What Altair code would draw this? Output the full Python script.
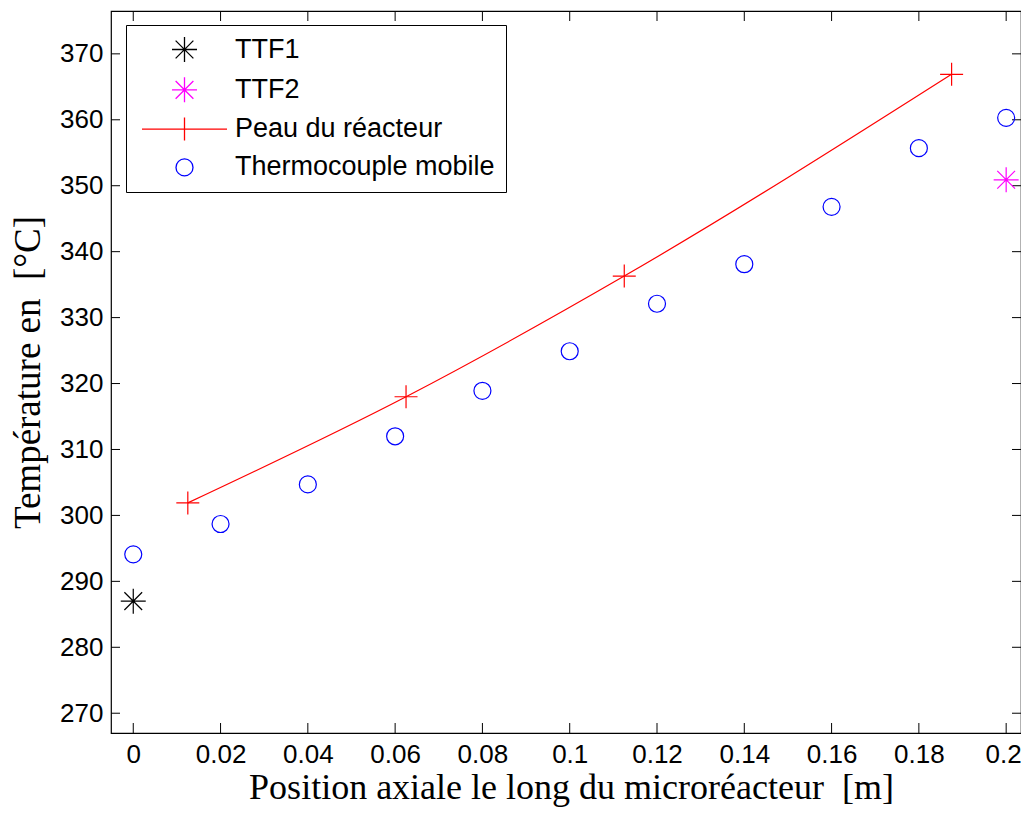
import altair as alt
import pandas as pd

# ---- data ----
tc_x = [0.0, 0.02, 0.04, 0.06, 0.08, 0.10, 0.12, 0.14, 0.16, 0.18, 0.20]
tc_y = [294.1, 298.7, 304.7, 312.0, 318.9, 324.9, 332.1, 338.1, 346.8, 355.7, 360.3]
peau_x = [0.0125, 0.0625, 0.1125, 0.1875]
peau_y = [301.9, 318.0, 336.3, 366.9]
ttf1_x = [0.0]
ttf1_y = [287.0]
ttf2_x = [0.2]
ttf2_y = [350.9]

series = ["TTF1", "TTF2", "Peau du réacteur", "Thermocouple mobile"]
colors = ["#000000", "#ff00ff", "#ff0000", "#0000ff"]

x_ticks = [0, 0.02, 0.04, 0.06, 0.08, 0.1, 0.12, 0.14, 0.16, 0.18, 0.2]
y_ticks = [270, 280, 290, 300, 310, 320, 330, 340, 350, 360, 370]

# ---- marker shapes (unit paths) ----
asterisk = "M-1,0L1,0M0,-1L0,1M-0.71,-0.71L0.71,0.71M-0.71,0.71L0.71,-0.71"
plus = "M-0.92,0L0.92,0M0,-0.92L0,0.92"
line_plus = "M-3.4,0L3.4,0M0,-0.92L0,0.92"
circle = "M0.68,0A0.68,0.68 0 1,1 -0.68,0A0.68,0.68 0 1,1 0.68,0Z"
shapes = [asterisk, asterisk, line_plus, circle]

W, H = 910, 722
SIZE = 625

pts = pd.DataFrame({
    "x": ttf1_x + ttf2_x + tc_x,
    "y": ttf1_y + ttf2_y + tc_y,
    "series": ["TTF1"] * len(ttf1_x) + ["TTF2"] * len(ttf2_x) + ["Thermocouple mobile"] * len(tc_x),
})
peau = pd.DataFrame({"x": peau_x, "y": peau_y})
xt = pd.DataFrame({"v": x_ticks})
yt = pd.DataFrame({"v": y_ticks})

xscale = alt.Scale(domain=[-0.0051, 0.2034], nice=False, zero=False)
yscale = alt.Scale(domain=[267.0, 376.5], nice=False, zero=False)

xaxis = alt.Axis(
    values=x_ticks, format="~g",
    title="Position axiale le long du microréacteur\u00a0 [m]",
    ticks=False, domain=False, grid=False, labelFlush=False,
    labelFont="Liberation Sans", labelFontSize=26, labelColor="black", labelPadding=8,
    labelOffset={"condition": {"test": "datum.value > 0.19", "value": -3}, "value": 0},
    titleFont="Liberation Serif", titleFontSize=36, titleFontWeight="normal",
    titleColor="black", titlePadding=3, titleX=460,
)
yaxis = alt.Axis(
    values=y_ticks, format="d",
    title="Température en\u00a0 [°C]",
    ticks=False, domain=False, grid=False, labelFlush=False,
    labelFont="Liberation Sans", labelFontSize=26, labelColor="black", labelPadding=8,
    titleFont="Liberation Serif", titleFontSize=37, titleFontWeight="normal",
    titleColor="black", titlePadding=12,
)

X = alt.X("x:Q", scale=xscale, axis=xaxis)
Y = alt.Y("y:Q", scale=yscale, axis=yaxis)

legend = alt.Legend(
    title=None, orient="none", legendX=15, legendY=14,
    strokeColor="black", fillColor="white", padding=11,
    symbolSize=SIZE, symbolStrokeWidth=1.3, symbolOffset=34,
    labelFont="Liberation Sans", labelFontSize=27, labelColor="black",
    labelOffset=37, labelLimit=0, rowPadding=9.3,
    labelExpr="(datum.label == 'TTF1' || datum.label == 'TTF2') ? '\u00a0' + datum.label : datum.label",
)

tick_style = dict(color="black", strokeWidth=1)
ticks_bottom = alt.Chart(xt).mark_rule(**tick_style).encode(
    x=alt.X("v:Q", scale=xscale, axis=xaxis), y=alt.value(H), y2=alt.value(H - 10))
ticks_top = alt.Chart(xt).mark_rule(**tick_style).encode(
    x=alt.X("v:Q", scale=xscale, axis=xaxis), y=alt.value(0), y2=alt.value(10))
ticks_left = alt.Chart(yt).mark_rule(**tick_style).encode(
    y=alt.Y("v:Q", scale=yscale, axis=yaxis), x=alt.value(0), x2=alt.value(9))
ticks_right = alt.Chart(yt).mark_rule(**tick_style).encode(
    y=alt.Y("v:Q", scale=yscale, axis=yaxis), x=alt.value(W - 9), x2=alt.value(W))

peau_line = alt.Chart(peau).mark_line(color="#ff0000", strokeWidth=1.2, interpolate="monotone").encode(x=X, y=Y)
peau_pts = alt.Chart(peau).mark_point(shape=plus, size=SIZE, filled=False, color="#ff0000",
                                      strokeWidth=1.2, opacity=1).encode(x=X, y=Y)
points = alt.Chart(pts).mark_point(filled=False, size=SIZE, strokeWidth=1.2, opacity=1).encode(
    x=X, y=Y,
    color=alt.Color("series:N", scale=alt.Scale(domain=series, range=colors), legend=legend),
    shape=alt.Shape("series:N", scale=alt.Scale(domain=series, range=shapes), legend=legend),
)

chart = alt.layer(
    ticks_bottom, ticks_top, ticks_left, ticks_right, peau_line, peau_pts, points
).properties(
    width=W, height=H,
    autosize=alt.AutoSizeParams(type="none"),
    padding={"left": 103, "top": 3, "right": 0, "bottom": 75},
    background="white",
).configure_view(stroke="black", strokeWidth=1.2)

chart.save("out.html", embed_options={"renderer": "svg", "actions": False})
